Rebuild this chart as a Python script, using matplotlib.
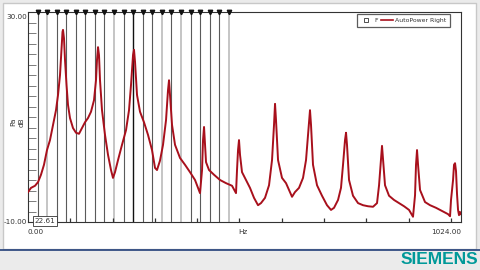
import numpy as np
import matplotlib
matplotlib.use("Agg")
import matplotlib.pyplot as plt
from matplotlib.lines import Line2D
import matplotlib.patches as patches

# autopower spectrum (Hz, dB)
freq = [0.0, 7.1, 16.6, 23.7, 30.7, 37.8, 44.9, 52.0, 59.1, 66.2, 71.0, 75.7, 79.2, 81.6, 82.8, 85.1,
        87.5, 91.1, 94.6, 99.3, 106.4, 113.5, 120.6, 127.7, 134.8, 141.9, 149.0, 156.1, 160.8, 163.2,
        165.6, 167.9, 170.3, 175.0, 182.1, 189.2, 196.3, 201.0, 205.8, 212.9, 222.3, 231.8, 238.9,
        243.6, 248.4, 250.7, 253.1, 257.8, 264.9, 274.3, 283.8, 293.3, 300.4, 305.1, 312.2, 319.3,
        326.4, 331.1, 333.5, 335.8, 340.6, 347.7, 359.5, 371.3, 383.1, 395.0, 402.1, 406.8, 411.6,
        413.9, 416.3, 418.6, 421.0, 428.1, 439.9, 454.1, 468.3, 482.5, 491.9, 494.3, 496.7, 499.0,
        501.4, 506.1, 515.6, 525.0, 534.5, 544.0, 551.0, 560.5, 570.0, 577.1, 581.8, 584.2, 586.5,
        591.3, 600.7, 610.2, 617.3, 624.4, 631.4, 640.9, 650.4, 657.5, 662.2, 666.9, 669.3, 674.0,
        683.5, 695.3, 707.1, 716.6, 723.7, 733.2, 740.2, 745.0, 749.7, 752.1, 754.4, 759.2, 768.6,
        780.5, 792.3, 804.1, 816.0, 825.4, 830.2, 834.9, 837.2, 839.6, 844.3, 853.8, 865.6, 877.4,
        889.3, 901.1, 910.5, 915.3, 917.6, 920.0, 922.4, 927.1, 938.9, 950.8, 965.0, 979.1, 993.3,
        998.1, 1000.4, 1002.8, 1005.2, 1007.5, 1009.9, 1012.2, 1014.6, 1017.0, 1019.3, 1021.7, 1024.0]
level = [-4.3, -3.5, -3.1, -2.4, -1.0, 0.9, 3.7, 5.6, 8.5, 11.3, 14.2, 18.0, 22.8, 26.2, 26.6, 25.0,
         20.9, 16.1, 12.3, 9.8, 7.9, 7.0, 6.8, 7.9, 9.0, 9.8, 11.0, 13.2, 17.0, 20.9,
         23.3, 21.8, 17.0, 11.3, 6.6, 2.8, -0.1, -1.6, -0.5, 1.8, 4.7, 7.5, 11.3,
         16.1, 21.8, 22.8, 20.5, 14.2, 11.0, 9.0, 6.6, 3.7, 0.3, -0.1, 1.7, 4.7,
         9.4, 15.1, 17.0, 14.2, 8.5, 4.7, 2.2, 0.9, -0.5, -2.0, -3.5, -4.5, -0.1,
         5.6, 8.1, 4.7, 1.4, -0.1, -1.0, -2.0, -2.6, -3.1, -4.5, -0.1, 3.7, 5.6,
         2.8, -0.5, -2.0, -3.5, -5.4, -6.8, -6.4, -5.4, -3.0, 1.8, 8.5, 12.5, 9.4,
         1.8, -1.6, -2.6, -3.9, -5.2, -4.3, -3.5, -1.6, 1.8, 6.6, 11.3, 8.5, 0.9,
         -3.0, -5.0, -6.8, -7.7, -7.3, -5.8, -3.5, 0.9, 5.6, 7.0, 4.7, -2.0, -5.0,
         -6.4, -6.8, -7.0, -7.1, -6.4, -3.0, 2.2, 4.5, 1.9, -3.0, -5.0, -5.8, -6.4,
         -7.0, -7.7, -9.0, -4.9, 0.9, 3.7, 0.9, -3.9, -6.2, -6.8, -7.3, -7.9, -8.5,
         -8.9, -5.8, -3.9, -2.0, 0.9, 1.2, -0.3, -4.7, -7.7, -8.7, -8.1, -8.5]

# harmonic cursor
cursor_step = 22.61
cursor_count = 21
light_cursors = [2, 9, 14, 16, 21]

x_min, x_max = 0.0, 1024.0
y_min, y_max = -10.0, 30.0

W, H = 480, 270
fig = plt.figure(figsize=(4.8, 2.7), dpi=100)
fig.patch.set_facecolor("#ebebeb")

def px(x, y):
    return x / W, 1 - y / H

# window panel
bg = fig.add_axes([0, 0, 1, 1])
bg.set_xlim(0, W)
bg.set_ylim(H, 0)
bg.axis("off")
bg.add_patch(patches.Rectangle((3, 3), 473, 246, facecolor="white", edgecolor="#c8c8c8", linewidth=1))
bg.plot([0, W], [249.5, 249.5], color="#23407a", linewidth=1.2)
bg.text(478, 259, "SIEMENS", color="#009999", fontsize=12.5, fontweight="bold",
        family="Liberation Sans", ha="right", va="center")

left, right, top, bottom = 28, 461, 12, 222
ax = fig.add_axes([left / W, 1 - bottom / H, (right - left) / W, (bottom - top) / H])
ax.set_xlim(x_min, x_max)
ax.set_ylim(y_min, y_max)
for s in ax.spines.values():
    s.set_color("#333333")
    s.set_linewidth(0.8)

ax.set_yticks(np.arange(y_min, y_max + 0.1, 2))
ax.set_yticklabels([])
ax.tick_params(axis="y", direction="in", length=6, width=0.6, color="#666666")
ax.set_xticks(np.arange(100, 1001, 100))
ax.set_xticklabels([])
ax.tick_params(axis="x", direction="in", length=3, width=0.9, color="#333333")

# cursor lines
for k in range(1, cursor_count + 1):
    f = k * cursor_step
    if k in light_cursors:
        ax.axvline(f, color="#b5b5b5", linewidth=1.1, zorder=1)
    elif k == 11:
        ax.axvline(f, color="#111111", linewidth=1.0, zorder=1)
    else:
        ax.axvline(f, color="#5a5a5a", linewidth=0.8, zorder=1)
    ax.plot(f, y_max, marker="v", markersize=3.2, color="#111111", clip_on=False, zorder=5)

ax.plot(freq, level, color="#a8101c", linewidth=1.4, zorder=3)

# labels
tsz = 5.2
fig.text(*px(27, 17), "30.00", fontsize=tsz, color="#333333", ha="right", va="center")
fig.text(*px(27, 222), "-10.00", fontsize=tsz, color="#333333", ha="right", va="center")
fig.text(*px(28, 232), "0.00", fontsize=tsz, color="#333333", ha="left", va="center")
fig.text(*px(243, 232), "Hz", fontsize=tsz, color="#333333", ha="center", va="center")
fig.text(*px(461, 232), "1024.00", fontsize=tsz, color="#333333", ha="right", va="center")
fig.text(*px(13, 122), "Pa", fontsize=tsz, color="#333333", ha="center", va="center", rotation=90)
fig.text(*px(22, 122), "dB", fontsize=tsz, color="#333333", ha="center", va="center", rotation=90)
fig.text(*px(45, 221), "22.61", fontsize=tsz, color="#333333", ha="center", va="center",
         bbox=dict(boxstyle="square,pad=0.25", facecolor="white", edgecolor="#333333", linewidth=0.6))

handles = [Line2D([], [], marker="s", markersize=3.5, markerfacecolor="white",
                  markeredgecolor="#333333", markeredgewidth=0.6, linestyle="none"),
           Line2D([], [], color="#a8101c", linewidth=1.2)]
leg = ax.legend(handles, ["F", "AutoPower Right"], loc="upper right",
                bbox_to_anchor=px(450, 14), bbox_transform=fig.transFigure,
                ncol=2, fontsize=4.4, frameon=True, fancybox=False, borderpad=0.6,
                handlelength=1.9, handletextpad=0.4, columnspacing=0.5, labelcolor="#333333",
                borderaxespad=0)
leg.get_frame().set_edgecolor("#333333")
leg.get_frame().set_linewidth(0.9)

fig.savefig("out.png", dpi=100)
